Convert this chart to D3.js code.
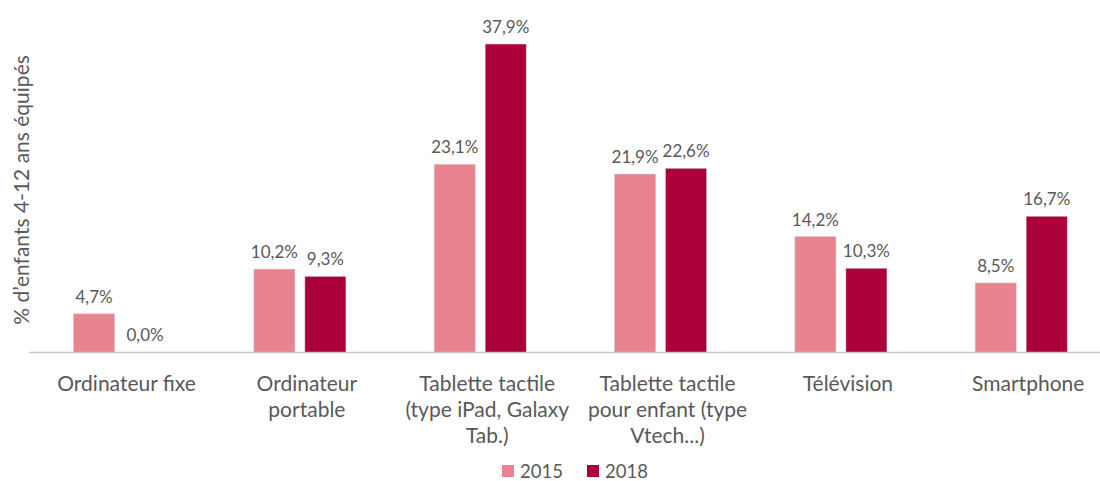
<!DOCTYPE html>
<html><head><meta charset="utf-8">
<script src="https://cdn.jsdelivr.net/npm/d3@7"></script>
<style>body{margin:0;background:#fff}</style>
</head><body>
<svg id="c" width="1100" height="481"></svg>
<script>
const categories = [
  ["Ordinateur fixe"],
  ["Ordinateur", "portable"],
  ["Tablette tactile", "(type iPad, Galaxy", "Tab.)"],
  ["Tablette tactile", "pour enfant (type", "Vtech...)"],
  ["Télévision"],
  ["Smartphone"]
];
const series = ["2015", "2018"];
const values2015 = [4.7, 10.2, 23.1, 21.9, 14.2, 8.5];
const values2018 = [0.0, 9.3, 37.9, 22.6, 10.3, 16.7];
const colors = ["#E8838F", "#AB003C"];
const yTitle = "% d’enfants 4-12 ans équipés";

const svg = d3.select("#c");
const font = "Lato, 'Open Sans', sans-serif";
const textColor = "#595959";
const base = 352;

const x0 = d3.scaleBand().domain(d3.range(categories.length)).range([29.4, 1111.4]).paddingInner(0).paddingOuter(0);
const step = x0.step();
const x1 = d3.scaleBand().domain(series).range([step/2 - 46, step/2 + 46]).paddingInner(0.196).paddingOuter(0);
const y = d3.scaleLinear().domain([0, 40]).range([base, base - 325]);

const data = series.map((s, si) => ({s, si, vals: si === 0 ? values2015 : values2018}));

// axis line
svg.append("line").attr("x1", 29).attr("x2", 1100).attr("y1", base + 0.5).attr("y2", base + 0.5)
  .attr("stroke", "#c8c8c8").attr("stroke-width", 1.3);

const g = svg.append("g");
data.forEach(d => {
  d.vals.forEach((v, i) => {
    const bx = x0(i) + x1(d.s);
    g.append("rect").attr("x", bx).attr("y", y(v)).attr("width", x1.bandwidth())
      .attr("height", base - y(v)).attr("fill", colors[d.si])
      .attr("stroke", "rgba(200,200,200,0.6)").attr("stroke-width", 0.8);
    g.append("text").attr("x", bx + x1.bandwidth()/2).attr("y", y(v) - 11)
      .attr("text-anchor", "middle").attr("font-family", font).attr("font-size", 17)
      .attr("fill", textColor).text(v.toFixed(1).replace(".", ",") + "%");
  });
});

// category labels
categories.forEach((lines, i) => {
  const t = svg.append("text").attr("text-anchor", "middle").attr("font-family", font)
    .attr("font-size", 21).attr("fill", textColor);
  lines.forEach((l, k) => {
    t.append("tspan").attr("x", x0(i) + step/2 + 7).attr("y", 391 + k * 26).text(l);
  });
});

// y title
svg.append("text").attr("transform", "translate(29,190) rotate(-90)").attr("text-anchor", "middle")
  .attr("font-family", font).attr("font-size", 21).attr("fill", textColor).text(yTitle);

// legend
const legX = [502, 587];
series.forEach((s, si) => {
  svg.append("rect").attr("x", legX[si]).attr("y", 465).attr("width", 12).attr("height", 12).attr("fill", colors[si]);
  svg.append("text").attr("x", legX[si] + 18).attr("y", 477.5).attr("font-family", font)
    .attr("font-size", 18.5).attr("fill", textColor).text(s);
});
</script>
</body></html>
